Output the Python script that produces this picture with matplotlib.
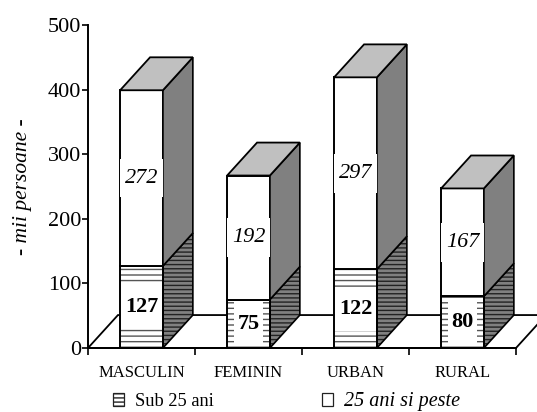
import matplotlib
matplotlib.use('Agg')
import matplotlib.pyplot as plt
from matplotlib.patches import Patch, Polygon

categories = ['MASCULIN', 'FEMININ', 'URBAN', 'RURAL']
sub25 = [127, 75, 122, 80]
peste25 = [272, 192, 297, 167]
tick_labels = [0, 100, 200, 300, 400, 500]

plt.rcParams['font.family'] = ['Liberation Serif', 'DejaVu Serif']
plt.rcParams['hatch.linewidth'] = 1.0

W, H = 537, 412
fig = plt.figure(figsize=(W / 100, H / 100), dpi=100)
ax = fig.add_axes([88 / W, (H - 348) / H, 428 / W, 323 / H])
ax.set_xlim(-0.5, 3.5)
ax.set_ylim(0, 500)

# pseudo 3d depth, in data units
dx = 0.28
dy = 51
bar_w = 0.4


def poly(pts, **kw):
    p = Polygon(pts, closed=True, clip_on=False, joinstyle='miter', **kw)
    ax.add_patch(p)
    return p


def band(x, y, half_w, half_h, z):
    # white patch behind a value label
    poly([(x - half_w, y - half_h), (x + half_w, y - half_h), (x + half_w, y + half_h), (x - half_w, y + half_h)],
         facecolor='white', edgecolor='none', zorder=z)


# floor
poly([(-0.5, 0), (-0.5 + dx, dy), (3.5 + dx, dy), (3.5, 0)],
     facecolor='white', edgecolor='black', linewidth=1.3, zorder=1)

for i in range(len(categories)):
    left = i - bar_w / 2
    right = i + bar_w / 2
    low = sub25[i]
    top = low + peste25[i]

    # lower block
    poly([(left, 0), (right, 0), (right, low), (left, low)], facecolor='white',
         edgecolor='#555555', hatch='---', linewidth=0, zorder=2)
    poly([(right, 0), (right + dx, dy), (right + dx, low + dy), (right, low)],
         facecolor='#808080', edgecolor='#222222', hatch='----', linewidth=0, zorder=2)
    poly([(right, 0), (right + dx, dy), (right + dx, low + dy), (right, low)], fill=False,
         edgecolor='black', linewidth=1.2, zorder=3)
    lab = str(sub25[i])
    band(i, low / 2, 0.067 * len(lab), 34, 2.5)
    poly([(left, 0), (right, 0), (right, low), (left, low)], fill=False,
         edgecolor='black', linewidth=1.4, zorder=3)

    # upper block
    poly([(left, low), (right, low), (right, top), (left, top)],
         facecolor='white', edgecolor='black', linewidth=1.4, zorder=3)
    poly([(right, low), (right + dx, low + dy), (right + dx, top + dy), (right, top)],
         facecolor='#808080', edgecolor='black', linewidth=1.2, zorder=3)
    poly([(left, top), (left + dx, top + dy), (right + dx, top + dy), (right, top)],
         facecolor='#c0c0c0', edgecolor='black', linewidth=1.3, zorder=3)
    band(i, low + peste25[i] / 2, bar_w / 2, 30, 3.5)

    # value labels
    ax.text(i, low / 2, lab, ha='center', va='center', fontsize=16, fontweight='bold', zorder=4)
    ax.text(i, low + peste25[i] / 2, str(peste25[i]), ha='center', va='center', fontsize=16,
            fontstyle='italic', zorder=4)

ax.spines['top'].set_visible(False)
ax.spines['right'].set_visible(False)
ax.spines['left'].set_linewidth(1.4)
ax.spines['bottom'].set_linewidth(1.4)
ax.spines['left'].set_zorder(5)
ax.spines['bottom'].set_zorder(5)

ax.set_yticks(tick_labels)
ax.tick_params(axis='y', labelsize=16, length=4, width=1.2, pad=1)
ax.set_xticks([-0.5, 0.5, 1.5, 2.5, 3.5])
ax.set_xticklabels([])
ax.tick_params(axis='x', which='major', length=5, width=1.2)
ax.set_xticks(range(len(categories)), categories, minor=True)
ax.tick_params(axis='x', which='minor', length=0, labelsize=12, pad=12)

ax.set_ylabel('- mii persoane -', fontsize=15.5, fontstyle='italic', labelpad=11)

handles = [Patch(facecolor='white', edgecolor='#222222', hatch='----', linewidth=0.9),
           Patch(facecolor='white', edgecolor='#222222', linewidth=0.9)]
leg = ax.legend(handles, ['Sub 25 ani', '25 ani si peste'], ncol=2, frameon=False, fontsize=13.2,
                loc='upper left', bbox_to_anchor=(0.058, -0.137), handlelength=0.6, handleheight=0.7,
                handletextpad=0.6, columnspacing=5.9, borderpad=0, borderaxespad=0)
leg.get_texts()[1].set_fontstyle('italic')
leg.get_texts()[1].set_fontsize(14.5)

fig.savefig('out.png', dpi=100)
